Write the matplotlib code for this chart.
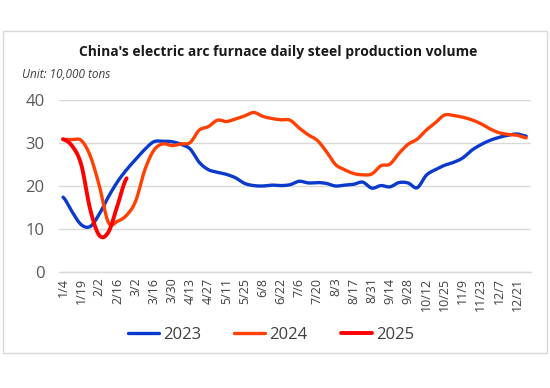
import matplotlib
matplotlib.use("Agg")
import matplotlib.pyplot as plt
from matplotlib.patches import Rectangle
import numpy as np

weeks = ["1/4", "1/11", "1/19", "1/26", "2/2", "2/9", "2/16", "2/23", "3/2", "3/9",
         "3/16", "3/23", "3/30", "4/6", "4/13", "4/20", "4/27", "5/4", "5/11", "5/18",
         "5/25", "6/1", "6/8", "6/15", "6/22", "6/29", "7/6", "7/13", "7/20", "7/27",
         "8/3", "8/10", "8/17", "8/24", "8/31", "9/7", "9/14", "9/21", "9/28", "10/5",
         "10/12", "10/19", "10/25", "11/2", "11/9", "11/16", "11/23", "11/30", "12/7", "12/14",
         "12/21", "12/28"]

y2023 = [17.4, 14.0, 11.0, 10.6, 13.5, 17.5, 21.0, 23.8, 26.2, 28.5,
         30.3, 30.4, 30.3, 29.7, 28.6, 25.5, 23.8, 23.2, 22.7, 21.9,
         20.6, 20.1, 20.0, 20.2, 20.1, 20.3, 21.1, 20.7, 20.8, 20.6,
         20.0, 20.2, 20.4, 20.9, 19.5, 20.1, 19.8, 20.8, 20.7, 19.6,
         22.5, 23.8, 24.8, 25.5, 26.5, 28.3, 29.6, 30.6, 31.3, 31.8,
         32.1, 31.6]

y2024 = [30.8, 30.8, 30.6, 27.0, 20.0, 11.5, 11.8, 13.2, 16.5, 23.7,
         28.3, 29.8, 29.4, 29.8, 30.1, 33.0, 33.8, 35.3, 35.0, 35.6,
         36.3, 37.1, 36.2, 35.7, 35.4, 35.3, 33.5, 31.9, 30.6, 28.0,
         25.0, 23.8, 22.9, 22.6, 22.8, 24.7, 25.1, 27.6, 29.7, 30.9,
         33.0, 34.7, 36.5, 36.4, 36.0, 35.4, 34.5, 33.3, 32.4, 32.0,
         31.8, 31.2]

y2025 = [30.9, 29.3, 25.0, 14.5, 8.5, 9.3, 15.5, 21.8]

series_names = ["2023", "2024", "2025"]
colors = ["#0a3acc", "#ff4000", "#ff0000"]
widths = [2.4, 2.4, 2.8]

title = "China's electric arc furnace daily steel production volume"
unit = "Unit: 10,000 tons"
yticks = [0, 10, 20, 30, 40]


def smooth(vals, n=12):
    # Catmull-Rom smoothing (like Excel smoothed lines)
    v = np.asarray(vals, dtype=float)
    x = np.arange(len(v), dtype=float)
    if len(v) < 3:
        return x, v
    p = np.concatenate([[v[0]], v, [v[-1]]])
    xs, ys = [], []
    for i in range(len(v) - 1):
        p0, p1, p2, p3 = p[i], p[i + 1], p[i + 2], p[i + 3]
        t = np.linspace(0, 1, n, endpoint=False)
        y = 0.5 * ((2 * p1) + (-p0 + p2) * t + (2 * p0 - 5 * p1 + 4 * p2 - p3) * t ** 2
                   + (-p0 + 3 * p1 - 3 * p2 + p3) * t ** 3)
        xs.append(i + t)
        ys.append(y)
    xs.append([len(v) - 1])
    ys.append([v[-1]])
    return np.concatenate(xs), np.concatenate(ys)


W, H = 550, 388
fig = plt.figure(figsize=(W / 100, H / 100), dpi=100)
fig.patch.set_facecolor("white")

# outer frame
fig.add_artist(Rectangle((3 / W, 1 - 353 / H), (547 - 3) / W, (353 - 31) / H,
                         transform=fig.transFigure, fill=False,
                         edgecolor="#d9d9d9", linewidth=1.0))

ax = fig.add_axes([58.5 / W, 1 - 272 / H, (530.7 - 58.5) / W, (272 - 100) / H])
for name, data, c, lw in zip(series_names, [y2023, y2024, y2025], colors, widths):
    xs, ys = smooth(data)
    ax.plot(xs, ys, color=c, linewidth=lw, solid_capstyle="round", label=name)

ax.set_xlim(-0.5, len(weeks) - 0.5)
ax.set_ylim(0, 40)
ax.set_yticks(yticks)
ax.set_yticklabels([str(t) for t in yticks], fontsize=12, color="#595959",
                   family=["Open Sans", "DejaVu Sans"])
ax.set_xticks(range(0, len(weeks), 2))
ax.set_xticklabels(weeks[::2], rotation=90, fontsize=9, color="#404040",
                   family=["Open Sans", "DejaVu Sans"])
ax.tick_params(axis="both", length=0)
ax.tick_params(axis="y", pad=10)
ax.tick_params(axis="x", pad=4)
ax.grid(axis="y", color="#d9d9d9", linewidth=1.0)
ax.set_axisbelow(True)
for s in ["top", "right", "left"]:
    ax.spines[s].set_visible(False)
ax.spines["bottom"].set_color("#d9d9d9")
ax.spines["bottom"].set_linewidth(1.0)

fig.text(278 / W, 1 - 52 / H, title, ha="center", va="center", fontsize=10,
         fontweight="bold", color="#1a1a1a", family=["Open Sans", "DejaVu Sans"])
fig.text(22 / W, 1 - 75 / H, unit, ha="left", va="center", fontsize=8.5,
         style="italic", color="#404040", family=["Open Sans", "DejaVu Sans"])

leg = fig.legend(loc="center", bbox_to_anchor=(271 / W, 1 - 335 / H), ncol=3,
                 frameon=False, handlelength=1.85, columnspacing=2.0,
                 handletextpad=0.25, prop={"family": ["Open Sans", "DejaVu Sans"], "size": 12})
for t in leg.get_texts():
    t.set_color("#404040")

fig.savefig("out.png", dpi=100, facecolor="white")
